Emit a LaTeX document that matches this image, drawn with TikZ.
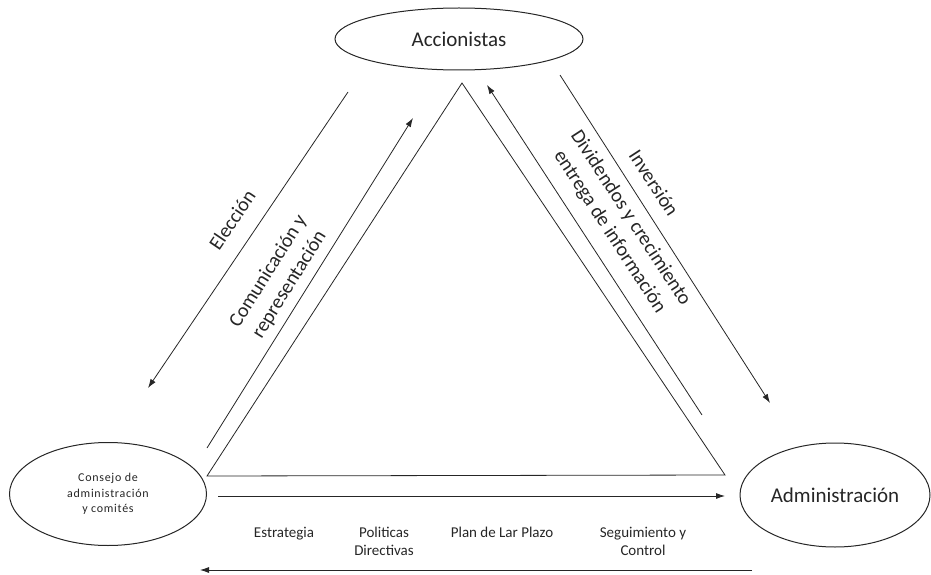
\documentclass[tikz,border=0pt]{standalone}
\usepackage{fontspec}
\setmainfont{Carlito}
\usetikzlibrary{shapes.geometric,arrows.meta}
\begin{document}
\begin{tikzpicture}[x=1pt,y=-1pt,
  line/.style={draw=black!85, line width=0.8pt},
  arr/.style={line, -{Latex[length=9pt,width=6pt]}},
  oval/.style={draw=black!85, line width=1pt, ellipse, inner sep=0pt},
  lbl/.style={font=\fontsize{20}{25}\selectfont, align=center, text=black!85},
  small/.style={font=\fontsize{15}{18}\selectfont, align=center, text=black!85, anchor=base}]
\useasboundingbox (0,0) rectangle (931,575);
% nodes
\node[oval, minimum width=248pt, minimum height=62pt, font=\fontsize{21}{24}\selectfont, text=black!85] (acc) at (459,39) {Accionistas};
\node[oval, minimum width=197pt, minimum height=103pt, align=center, text=black!85,
      font=\fontsize{12}{15.5}\selectfont\addfontfeatures{LetterSpace=6}] (cons) at (108,494) {Consejo de\\administración\\y comités};
\node[oval, minimum width=190pt, minimum height=104pt, font=\fontsize{21}{24}\selectfont, text=black!85] (adm) at (835,495) {Administración};
% triangle
\coordinate (tA) at (462,83);
\coordinate (tL) at (207,476);
\coordinate (tR) at (725,475);
\draw[line] (tL) -- (tA) -- (tR) -- cycle;
% arrows
\coordinate (e1) at (348,92);  \coordinate (e2) at (148,388);
\coordinate (c1) at (207,448); \coordinate (c2) at (413,118);
\coordinate (d1) at (702,415); \coordinate (d2) at (487,85);
\coordinate (i1) at (560,75);  \coordinate (i2) at (770,403);
\coordinate (b1) at (218,496); \coordinate (b2) at (725,496);
\coordinate (l1) at (752,570); \coordinate (l2) at (200,570);
\draw[arr] (e1) -- (e2);
\draw[arr] (c1) -- (c2);
\draw[arr] (d1) -- (d2);
\draw[arr] (i1) -- (i2);
\draw[arr] (b1) -- (b2);
\draw[arr] (l1) -- (l2);
% rotated labels
\node[lbl, rotate=56] (elec) at (232,220) {Elección};
\node[lbl, rotate=58] (comu) at (279,278) {Comunicación y\\representación};
\node[lbl, rotate=-57] (inv) at (654,183) {Inversión};
\node[lbl, rotate=-57] (divi) at (620,225) {Dividendos y crecimiento\\entrega de información};
% bottom labels
\node[small] (estr) at (284,537) {Estrategia};
\node[small] (poli) at (384,555) {Politicas\\Directivas};
\node[small] (plan) at (502,537) {Plan de Lar Plazo};
\node[small] (segu) at (643,555) {Seguimiento y\\Control};
\end{tikzpicture}
\end{document}
